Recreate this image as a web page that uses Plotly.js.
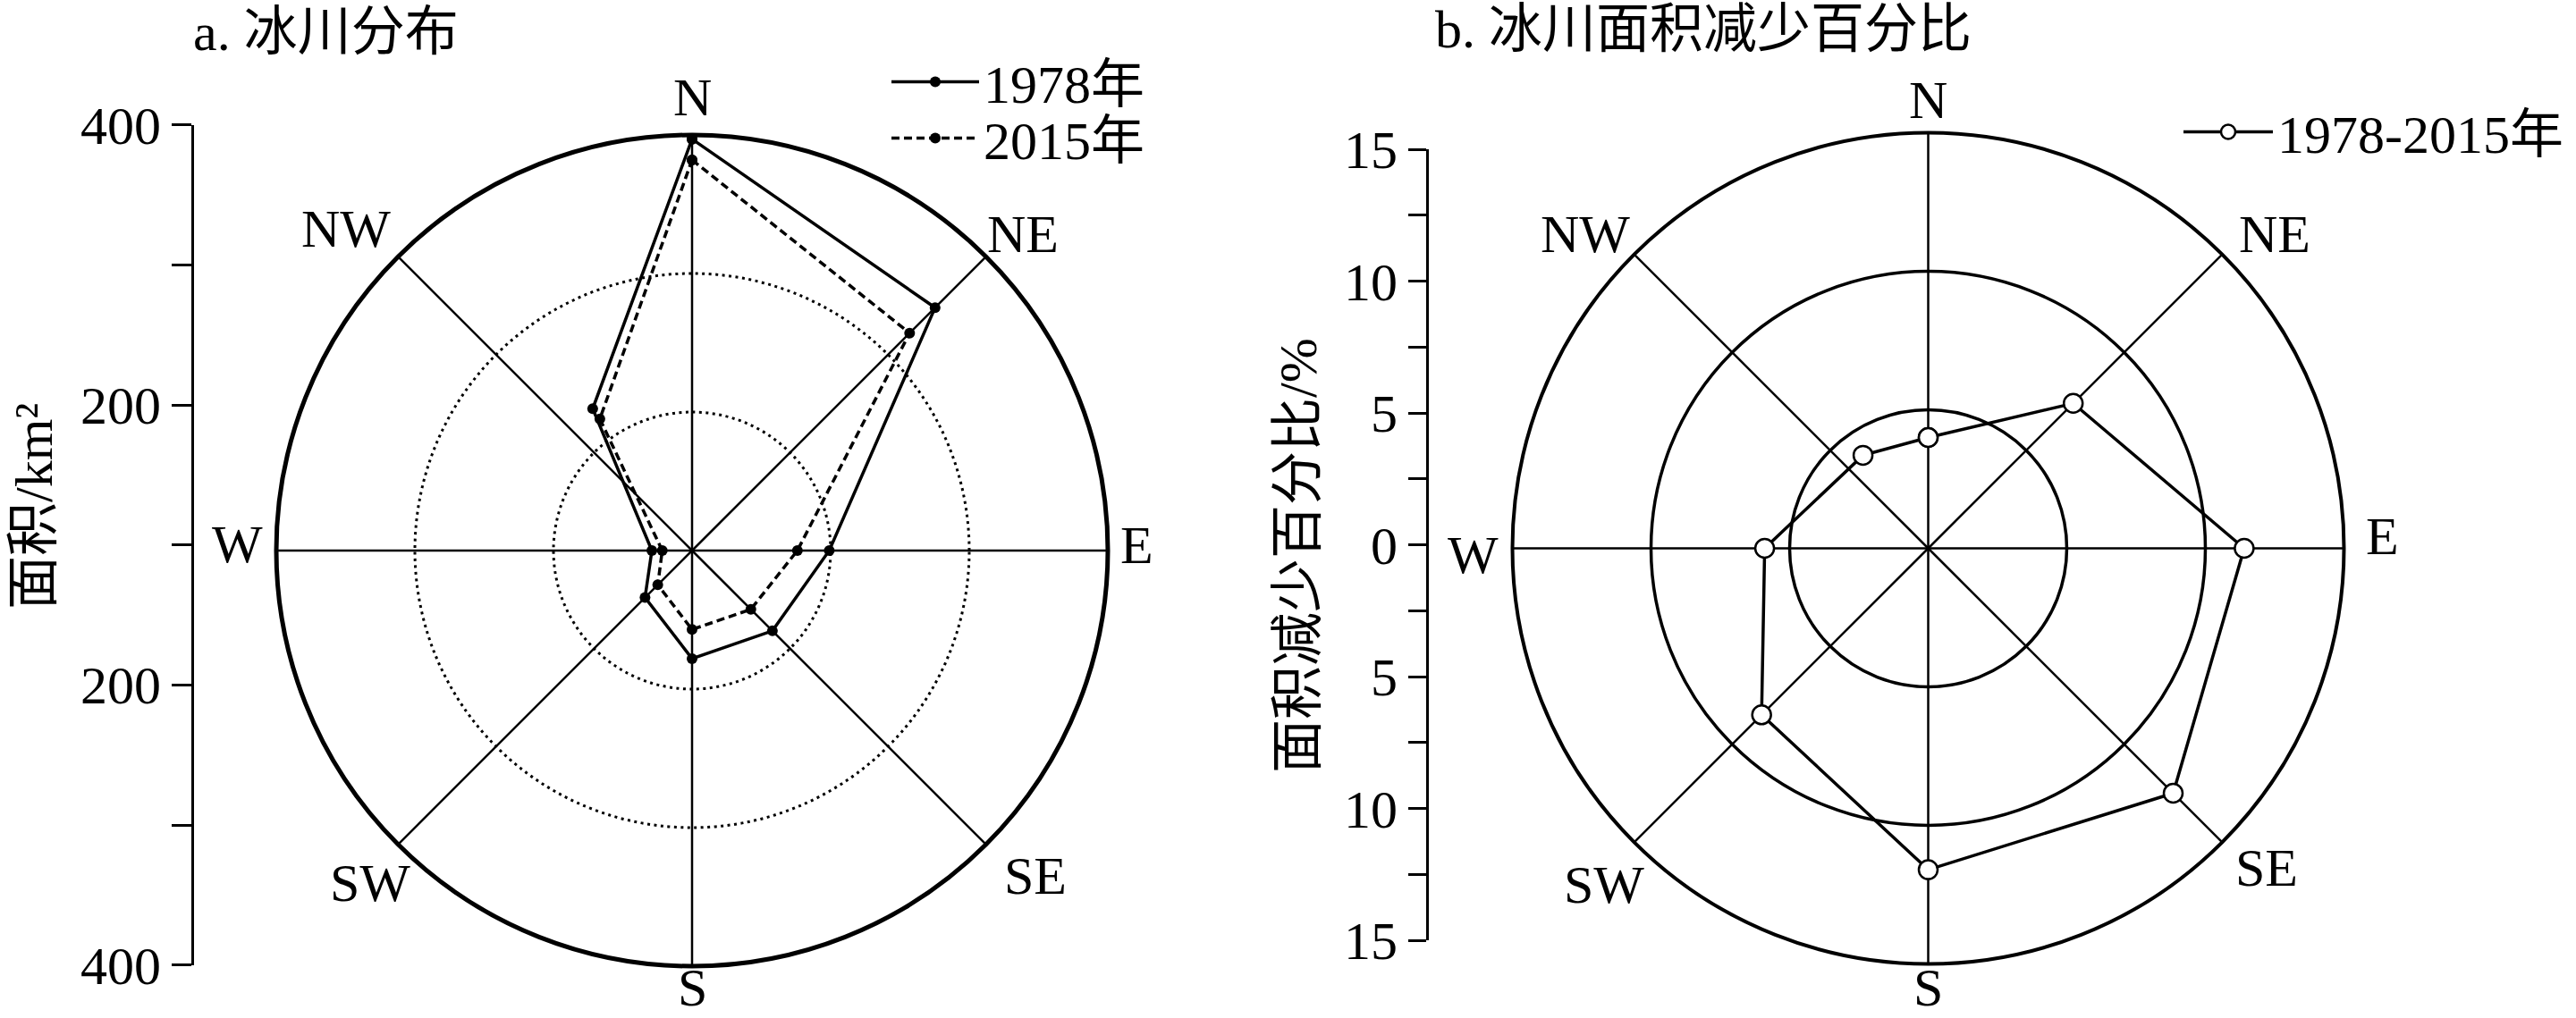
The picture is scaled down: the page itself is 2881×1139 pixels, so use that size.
<!DOCTYPE html>
<html>
<head>
<meta charset="utf-8">
<script src="https://cdn.plot.ly/plotly-3.0.1.min.js"></script>
<style>html,body{margin:0;padding:0;background:#fff;}#chart{width:2881px;height:1139px;}</style>
</head>
<body>
<div id="chart"></div>
<script>
// ---- data ----
const directions = ['N', 'NE', 'E', 'SE', 'S', 'SW', 'W', 'NW'];
// angle (deg, clockwise from N) at which each direction's point is drawn in the reference
const pointAngles = [0, 45, 90, 135, 180, 225, 270, 325];
const compassAngles = [0, 45, 90, 135, 180, 225, 270, 315];
const area1978 = [397, 348, 199, 182, 178, 148, 129, 225];
const area2015 = [382, 322, 176, 160, 157, 135, 121.5, 216];
const reduction = [4.0, 7.4, 11.4, 12.5, 11.6, 8.5, 5.9, 4.1];
const areaAxisTicks = [-300, -100, 100, 300];
const areaAxisLabels = ['400', '200', '200', '400'];
const areaAxisMinor = [-200, 0, 200];
const pctAxisTicks = [-15, -10, -5, 0, 5, 10, 15];
const pctAxisLabels = ['15', '10', '5', '0', '5', '10', '15'];
const pctAxisMinor = [-12.5, -7.5, -2.5, 2.5, 7.5, 12.5];

// ---- layout helpers ----
const FONT = 'Liberation Serif, "Times New Roman", "Noto Sans CJK SC", serif';
const W = 2881, H = 1139;
const close = a => a.concat([a[0]]);
const txt = {family: FONT, size: 60, color: '#000'};

// compass label placement (pixels) around each polar circle, in the order of `directions`
const compassPosA = [[774, 109], [1144, 262], [1271, 610], [1158, 980], [774, 1105], [414, 988], [265, 609], [387, 256]];
const compassPosB = [[2156, 112], [2544, 262], [2664, 600], [2535, 971], [2156, 1105], [1794, 990], [1647, 621], [1773, 262]];

function compassAnnotations(pos) {
  return directions.map((d, i) => ({
    text: d, xref: 'paper', yref: 'paper', x: pos[i][0] / W, y: 1 - pos[i][1] / H,
    xanchor: 'center', yanchor: 'middle', showarrow: false, font: txt
  }));
}

const traces = [
  {
    type: 'scatterpolar', subplot: 'polar', name: '1978年', legend: 'legend',
    r: close(area1978), theta: close(pointAngles), mode: 'lines+markers',
    line: {color: '#000', width: 3.5}, marker: {color: '#000', size: 12},
    cliponaxis: false
  },
  {
    type: 'scatterpolar', subplot: 'polar', name: '2015年', legend: 'legend3',
    r: close(area2015), theta: close(pointAngles), mode: 'lines+markers',
    line: {color: '#000', width: 3.5, dash: '9px,5px'}, marker: {color: '#000', size: 12},
    cliponaxis: false
  },
  {
    type: 'scatterpolar', subplot: 'polar2', name: '1978-2015年', legend: 'legend2',
    r: close(reduction), theta: close(pointAngles), mode: 'lines+markers',
    line: {color: '#000', width: 3.5},
    marker: {color: '#fff', size: 21, line: {color: '#000', width: 2.5}},
    cliponaxis: false
  },
  // empty traces so that the two side scales (cartesian y axes) are drawn
  {type: 'scatter', x: [], y: [], xaxis: 'x', yaxis: 'y', showlegend: false, hoverinfo: 'skip'},
  {type: 'scatter', x: [], y: [], xaxis: 'x2', yaxis: 'y2', showlegend: false, hoverinfo: 'skip'}
];

function angular(lw, gw) {
  return {
    rotation: 90, direction: 'clockwise', thetaunit: 'degrees',
    tickmode: 'array', tickvals: compassAngles, ticktext: directions, showticklabels: false,
    ticks: '', showline: true, linecolor: '#000', linewidth: lw,
    showgrid: true, gridcolor: '#000', gridwidth: gw
  };
}

function sideAxis(domain, range, tickvals, ticktext, minorvals, ticklen) {
  return {
    anchor: domain.anchor, side: 'left', domain: domain.d, range: range,
    tickmode: 'array', tickvals: tickvals, ticktext: ticktext,
    ticks: 'outside', ticklen: ticklen, tickwidth: 3, tickcolor: '#000',
    minor: {tickmode: 'array', tickvals: minorvals, ticks: 'outside', ticklen: ticklen,
            tickwidth: 3, tickcolor: '#000', showgrid: false},
    showline: true, linewidth: 3, linecolor: '#000', showgrid: false, zeroline: false,
    tickfont: txt
  };
}

const legendBase = {xanchor: 'left', yanchor: 'top', bgcolor: 'rgba(0,0,0,0)', borderwidth: 0, font: txt};

const layout = {
  width: W, height: H,
  margin: {l: 0, r: 0, t: 0, b: 0},
  paper_bgcolor: '#fff', plot_bgcolor: '#fff',
  font: txt,
  showlegend: true,
  polar: {
    domain: {x: [309 / W, 1239 / W], y: [1 - 1081 / H, 1 - 151 / H]},
    bgcolor: 'rgba(0,0,0,0)',
    radialaxis: {
      range: [100, 400], tick0: 100, dtick: 100, showticklabels: false, ticks: '',
      showline: false, gridcolor: '#000', gridwidth: 3, griddash: '3px,4.5px'
    },
    angularaxis: angular(5, 2.5)
  },
  polar2: {
    domain: {x: [1691.5 / W, 2621.5 / W], y: [1 - 1078.5 / H, 1 - 148.5 / H]},
    bgcolor: 'rgba(0,0,0,0)',
    radialaxis: {
      range: [0, 15], tick0: 0, dtick: 5, showticklabels: false, ticks: '',
      showline: false, gridcolor: '#000', gridwidth: 3.5
    },
    angularaxis: angular(4, 2.5)
  },
  xaxis: {domain: [217 / W, 230 / W], visible: false, range: [0, 1], fixedrange: true},
  yaxis: sideAxis({anchor: 'x', d: [1 - 1079.7 / H, 1 - 139.7 / H]}, [-300, 300],
                  areaAxisTicks, areaAxisLabels, areaAxisMinor, 22),
  xaxis2: {domain: [1598 / W, 1610 / W], visible: false, range: [0, 1], fixedrange: true},
  yaxis2: sideAxis({anchor: 'x2', d: [1 - 1052 / H, 1 - 167 / H]}, [-15, 15],
                   pctAxisTicks, pctAxisLabels, pctAxisMinor, 20),
  legend: Object.assign({}, legendBase, {x: 992 / W, y: 1 - 46 / H, itemwidth: 98}),
  legend3: Object.assign({}, legendBase, {x: 992 / W, y: 1 - 109 / H, itemwidth: 98}),
  legend2: Object.assign({}, legendBase, {x: 2437 / W, y: 1 - 102 / H, itemwidth: 100}),
  annotations: [
    {text: 'a. 冰川分布', xref: 'paper', yref: 'paper', x: 214 / W, y: 1 - 36 / H,
     xanchor: 'left', yanchor: 'middle', showarrow: false, font: txt},
    {text: 'b. 冰川面积减少百分比', xref: 'paper', yref: 'paper', x: 1603 / W, y: 1 - 33 / H,
     xanchor: 'left', yanchor: 'middle', showarrow: false, font: txt},
    {text: '面积/km²', xref: 'paper', yref: 'paper', x: 38 / W, y: 1 - 567 / H,
     xanchor: 'center', yanchor: 'middle', textangle: -90, showarrow: false, font: txt},
    {text: '面积减少百分比/%', xref: 'paper', yref: 'paper', x: 1452 / W, y: 1 - 622 / H,
     xanchor: 'center', yanchor: 'middle', textangle: -90, showarrow: false, font: txt}
  ].concat(compassAnnotations(compassPosA), compassAnnotations(compassPosB))
};

Plotly.newPlot('chart', traces, layout, {staticPlot: true, displayModeBar: false});
</script>
</body>
</html>
